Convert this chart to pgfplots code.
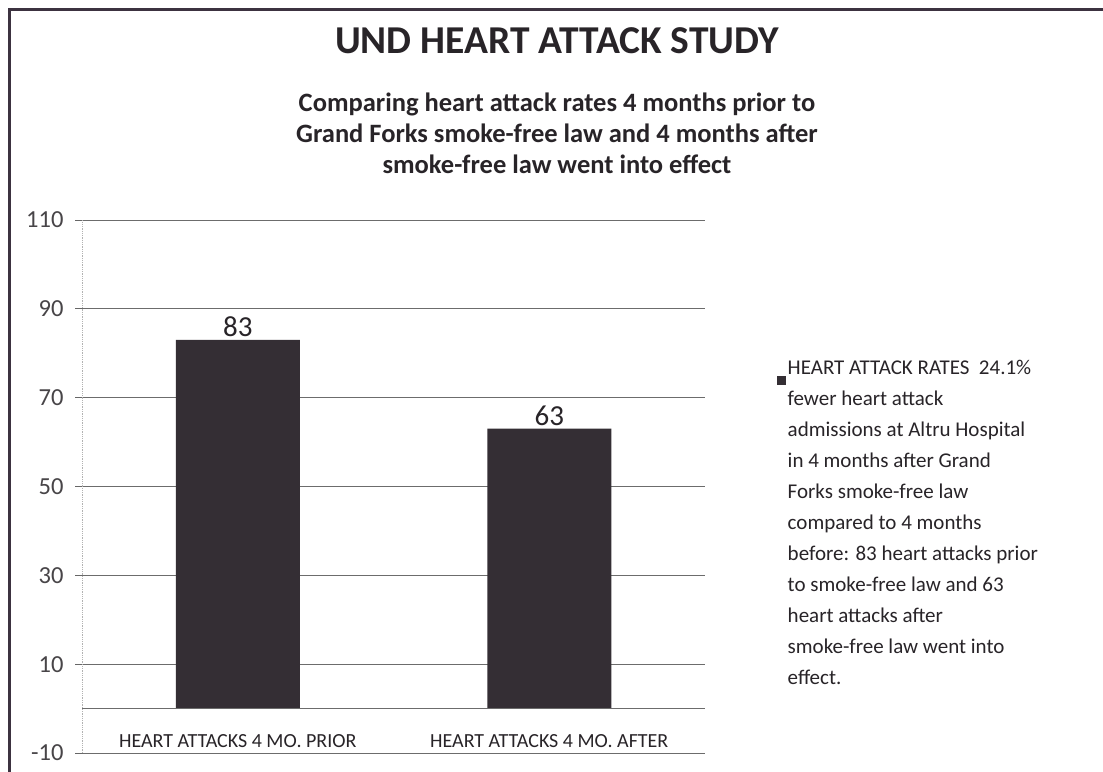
\documentclass[border=0pt]{standalone}
\usepackage{pgfplots}
\pgfplotsset{compat=1.18}
\usepackage{fontspec}
\setmainfont{Carlito}
\definecolor{bardark}{RGB}{52,46,52}
\definecolor{framec}{RGB}{60,50,64}
\definecolor{textc}{RGB}{40,36,40}
\begin{document}
\begin{tikzpicture}[x=1bp,y=1bp]
\path[use as bounding box] (0,0) rectangle (1103,772);
\fill[white] (0,0) rectangle (1103,772);
% frame
\draw[framec, line width=3bp] (9,0) -- (9,762) -- (1103,762);
% title
\node[font=\fontsize{39.5bp}{42bp}\selectfont\bfseries, text=textc] at (557,731) {UND HEART ATTACK STUDY};
\node[font=\fontsize{26.5bp}{31bp}\selectfont\bfseries, text=textc, align=center] at (557,639)
  {Comparing heart attack rates 4 months prior to\\Grand Forks smoke-free law and 4 months after\\smoke-free law went into effect};
\begin{axis}[
  at={(82bp,19bp)}, anchor=south west,
  scale only axis, width=623bp, height=533bp,
  xmin=-0.5, xmax=1.5, ymin=-10, ymax=110,
  ytick={-10,10,30,50,70,90,110},
  xtick={0,1},
  xticklabels={HEART ATTACKS 4 MO. PRIOR, HEART ATTACKS 4 MO. AFTER},
  xticklabel style={anchor=center, yshift=19bp, font=\fontsize{20bp}{22bp}\selectfont, text=textc},
  yticklabel style={font=\fontsize{24.5bp}{26bp}\selectfont, text=textc!85, xshift=-8bp},
  /pgf/number format/assume math mode=true,
  xtick style={draw=none},
  ytick style={gray!80!black, line width=0.8bp},
  tick align=outside, major tick length=7bp,
  ymajorgrids, grid style={gray!85!black, line width=0.9bp},
  axis lines*=left,
  x axis line style={draw=none},
  y axis line style={gray!60, line width=0.8bp, densely dotted},
  ybar, bar width=124bp,
  nodes near coords,
  nodes near coords style={font=\fontsize{29bp}{30bp}\selectfont, text=textc},
  legend style={at={(1.11,0.745)}, anchor=north west, draw=none, fill=none,
    font=\fontsize{21bp}{31bp}\selectfont, text=textc,
    nodes={align=left, anchor=north west}},
  legend image code/.code={\fill[bardark] (-7bp,-27bp) rectangle (2bp,-18bp);},
  clip=false,
]
\addplot[fill=bardark, draw=none] coordinates {(0,83) (1,63)};
\addlegendentry{HEART ATTACK RATES\ \ 24.1\%\\fewer heart attack\\admissions at Altru Hospital\\in 4 months after Grand\\Forks smoke-free law\\compared to 4 months\\before: 83 heart attacks prior\\to smoke-free law and 63\\heart attacks after\\smoke-free law went into\\effect.}
\draw[gray!85!black, line width=0.9bp] (axis cs:-0.5,0) -- (axis cs:1.5,0);
\end{axis}
\end{tikzpicture}
\end{document}
